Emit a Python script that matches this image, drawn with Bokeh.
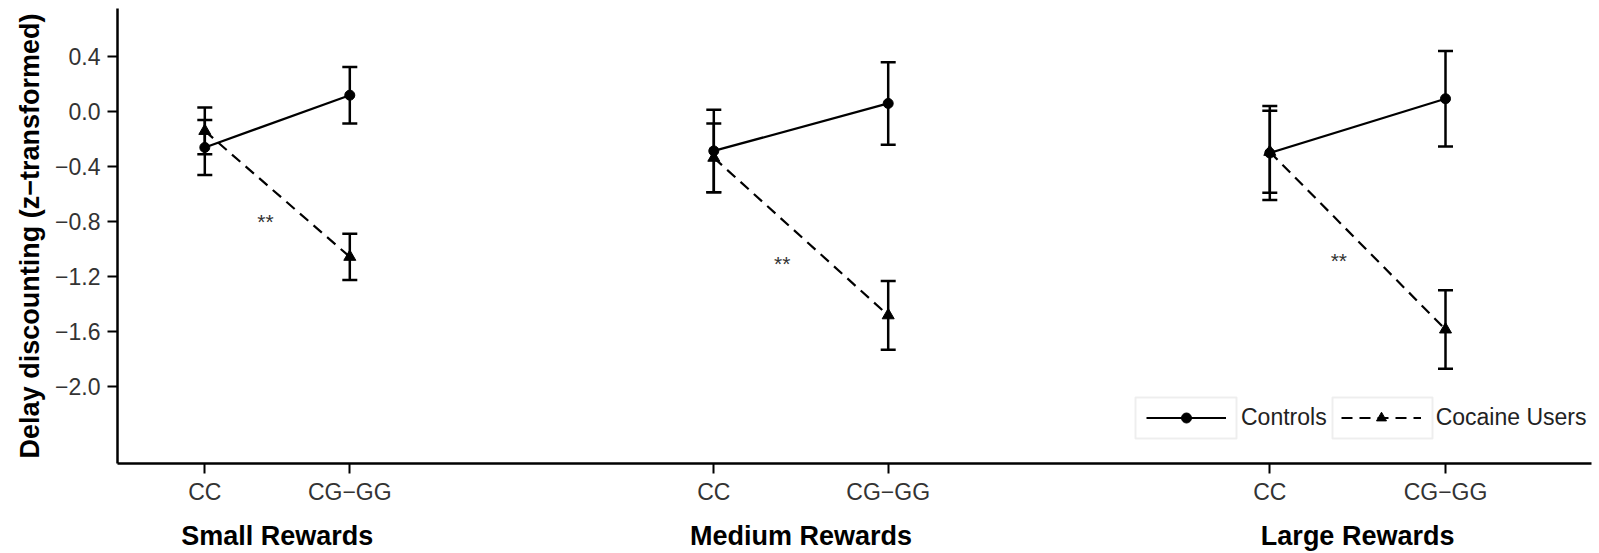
from bokeh.plotting import figure
from bokeh.models import (ColumnDataSource, Whisker, TeeHead, FixedTicker, Range1d,
                          Legend, LegendItem, BoxAnnotation, LinearAxis, CustomJSTickFormatter)
from bokeh.core.properties import value
from bokeh.embed import file_html
from bokeh.resources import INLINE

# ---------------- data ----------------
groups = ["Small Rewards", "Medium Rewards", "Large Rewards"]
genotypes = ["CC", "CG\u2212GG"]
x_pos = [0.873, 2.323, 5.963, 7.707, 11.523, 13.28]   # category positions on the axis

controls_mean = [-0.26, 0.12, -0.285, 0.06, -0.30, 0.094]
controls_err = [0.20, 0.205, 0.30, 0.30, 0.342, 0.347]
cocaine_mean = [-0.14, -1.055, -0.335, -1.48, -0.292, -1.583]
cocaine_err = [0.17, 0.168, 0.25, 0.25, 0.298, 0.286]

sig_x = [1.48, 6.647, 12.213]
sig_y = [-0.80, -1.10, -1.085]
sig_text = ["**", "**", "**"]

y_ticks = [0.4, 0.0, -0.4, -0.8, -1.2, -1.6, -2.0]

FONT = "Liberation Sans"

p = figure(width=1599, height=553, output_backend="svg", toolbar_location=None,
           x_range=Range1d(0, 14.74), y_range=Range1d(-2.557, 0.750),
           min_border_left=117, min_border_right=8, min_border_top=8, min_border_bottom=88)
p.outline_line_color = None
p.xgrid.visible = False
p.ygrid.visible = False
p.background_fill_color = "white"

# axes
for ax in (p.xaxis[0], p.yaxis[0]):
    ax.axis_line_width = 2.5
    ax.axis_line_color = "black"
    ax.major_tick_line_width = 2
    ax.major_tick_line_color = "black"
    ax.major_tick_in = 0
    ax.major_tick_out = 10
    ax.minor_tick_line_color = None
    ax.major_label_text_font = FONT
    ax.major_label_text_font_size = "23px"
    ax.major_label_text_color = "#333333"

p.yaxis.ticker = FixedTicker(ticks=y_ticks)
p.yaxis.formatter = CustomJSTickFormatter(code="return (tick < 0 ? '\\u2212' : '') + Math.abs(tick).toFixed(1);")
p.yaxis.major_label_standoff = 7
p.yaxis.axis_label = "Delay discounting (z\u2212transformed)"
p.yaxis.axis_label_text_font = FONT
p.yaxis.axis_label_text_font_size = "27px"
p.yaxis.axis_label_text_font_style = "bold"
p.yaxis.axis_label_text_color = "black"
p.yaxis.axis_label_standoff = 7

p.xaxis.ticker = FixedTicker(ticks=x_pos)
p.xaxis.major_label_overrides = {x: genotypes[i % 2] for i, x in enumerate(x_pos)}
p.xaxis.major_label_standoff = 5

# group labels: a second, line-less axis under the first one
centers = [(x_pos[2 * g] + x_pos[2 * g + 1]) / 2 for g in range(len(groups))]
gaxis = LinearAxis(ticker=FixedTicker(ticks=centers),
                   major_label_overrides={c: g for c, g in zip(centers, groups)},
                   axis_line_color=None, major_tick_line_color=None, minor_tick_line_color=None,
                   major_tick_in=0, major_tick_out=0, major_label_standoff=13,
                   major_label_text_font=FONT, major_label_text_font_size="27px",
                   major_label_text_font_style="bold", major_label_text_color="black")
p.add_layout(gaxis, "below")

# error bars
src_c = ColumnDataSource(dict(x=x_pos, y=controls_mean,
                              upper=[m + e for m, e in zip(controls_mean, controls_err)],
                              lower=[m - e for m, e in zip(controls_mean, controls_err)]))
src_u = ColumnDataSource(dict(x=x_pos, y=cocaine_mean,
                              upper=[m + e for m, e in zip(cocaine_mean, cocaine_err)],
                              lower=[m - e for m, e in zip(cocaine_mean, cocaine_err)]))
for src in (src_c, src_u):
    p.add_layout(Whisker(base="x", upper="upper", lower="lower", source=src,
                         line_width=2.5, line_color="black",
                         upper_head=TeeHead(size=15, line_width=2.5, line_color="black"),
                         lower_head=TeeHead(size=15, line_width=2.5, line_color="black")))

# lines (each reward group separately)
xs = [[x_pos[2 * g], x_pos[2 * g + 1]] for g in range(3)]
ys_c = [[controls_mean[2 * g], controls_mean[2 * g + 1]] for g in range(3)]
ys_u = [[cocaine_mean[2 * g], cocaine_mean[2 * g + 1]] for g in range(3)]
l_c = p.multi_line(xs, ys_c, line_color="black", line_width=2.2)
l_u = p.multi_line(xs, ys_u, line_color="black", line_width=2.2, line_dash="11 7")
m_c = p.scatter("x", "y", source=src_c, marker="circle", size=10, color="black")
m_u = p.scatter("x", "y", source=src_u, marker="triangle", size=12, color="black")

# significance stars
p.text(x=sig_x, y=sig_y, text=sig_text, text_align="center", text_baseline="middle",
       text_font=value(FONT), text_font_size="21px", text_color="#333333")

# legend
legend = Legend(items=[LegendItem(label="Controls", renderers=[l_c, m_c]),
                       LegendItem(label="Cocaine Users", renderers=[l_u, m_u])],
                location=(1029, 32), orientation="horizontal",
                glyph_width=80, glyph_height=25, label_standoff=15, spacing=14,
                padding=0, margin=0, border_line_color=None, background_fill_alpha=0,
                label_text_font=FONT, label_text_font_size="23px", label_text_color="#222222")
p.add_layout(legend)
for lft, rgt in ((1018, 1119), (1215, 1315)):
    p.add_layout(BoxAnnotation(left=lft, right=rgt, bottom=25, top=66,
                               left_units="screen", right_units="screen",
                               bottom_units="screen", top_units="screen",
                               fill_alpha=0, line_color="#c8c8c8", line_width=2))

open("out.html", "w").write(file_html(p, INLINE))
